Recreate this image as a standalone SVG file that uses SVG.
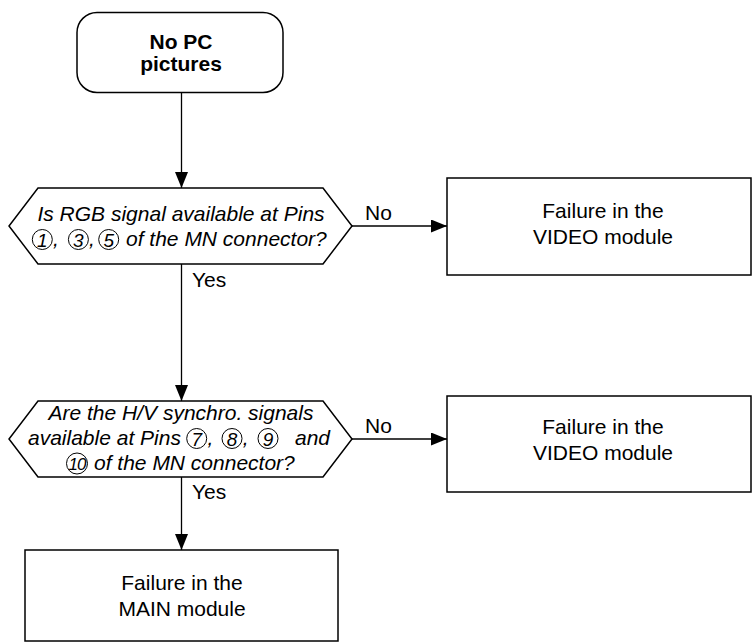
<svg xmlns="http://www.w3.org/2000/svg" width="752" height="642" viewBox="0 0 752 642">
  <style>
    text { font-family: "Liberation Sans", Arial, sans-serif; font-size: 21px; fill: #000; }
    .b { font-weight: bold; }
    .i { font-style: italic; }
    .m { text-anchor: middle; }
    .shape { fill: #fff; stroke: #000; stroke-width: 1.5; }
    .pin { fill: none; stroke: #000; stroke-width: 1; }
    .num { font-style: italic; font-size: 19px; text-anchor: middle; }
    .wire { fill: none; stroke: #000; stroke-width: 1.3; }
  </style>
  <defs>
    <marker id="arrow" markerWidth="16" markerHeight="13" refX="16" refY="6.5" orient="auto" markerUnits="userSpaceOnUse">
      <path d="M0,0 L16,6.5 L0,13 Z" fill="#000"/>
    </marker>
  </defs>

  <rect width="752" height="642" fill="#fff"/>

  <!-- connectors -->
  <g id="connectors">
    <line class="wire" x1="181.5" y1="93" x2="181.5" y2="188" marker-end="url(#arrow)"/>
    <line class="wire" x1="352" y1="226" x2="447" y2="226" marker-end="url(#arrow)"/>
    <line class="wire" x1="181.5" y1="264" x2="181.5" y2="401" marker-end="url(#arrow)"/>
    <line class="wire" x1="352" y1="439" x2="447" y2="439" marker-end="url(#arrow)"/>
    <line class="wire" x1="181.5" y1="477" x2="181.5" y2="550" marker-end="url(#arrow)"/>
    <text x="365" y="220">No</text>
    <text x="192" y="287">Yes</text>
    <text x="365" y="433">No</text>
    <text x="192" y="499">Yes</text>
  </g>

  <!-- start terminal -->
  <g id="start">
    <rect class="shape" x="77" y="12.5" width="206" height="80" rx="20" ry="20"/>
    <text class="b m" x="181" y="49">No PC</text>
    <text class="b m" x="181" y="71">pictures</text>
  </g>

  <!-- decision: RGB signal -->
  <g id="check-rgb">
    <polygon class="shape" points="38,188 323,188 352,226 323,264 38,264 9,226"/>
    <text class="i m" x="181" y="221">Is RGB signal available at Pins</text>
    <circle class="pin" cx="42.3" cy="239.5" r="10"/>
    <text class="num" x="42.3" y="246.5">1</text>
    <text class="i" x="53" y="246">,</text>
    <circle class="pin" cx="78.4" cy="239.5" r="10"/>
    <text class="num" x="78.4" y="246.5">3</text>
    <text class="i" x="89" y="246">,</text>
    <circle class="pin" cx="108.7" cy="239.5" r="10"/>
    <text class="num" x="108.7" y="246.5">5</text>
    <text class="i" x="126" y="246">of the MN connector?</text>
  </g>

  <!-- result: video module (RGB) -->
  <g id="video-rgb">
    <rect class="shape" x="447" y="178" width="304" height="97"/>
    <text class="m" x="603" y="218">Failure in the</text>
    <text class="m" x="603" y="244">VIDEO module</text>
  </g>

  <!-- decision: H/V sync signals -->
  <g id="check-sync">
    <polygon class="shape" points="38,401 323,401 352,439 323,477 38,477 9,439"/>
    <text class="i m" x="181" y="420">Are the H/V synchro. signals</text>
    <text class="i" x="28" y="445">available at Pins</text>
    <circle class="pin" cx="196.7" cy="438.5" r="10"/>
    <text class="num" x="196.7" y="445.5">7</text>
    <text class="i" x="207.5" y="445">,</text>
    <circle class="pin" cx="232" cy="438.5" r="10"/>
    <text class="num" x="232" y="445.5">8</text>
    <text class="i" x="242.8" y="445">,</text>
    <circle class="pin" cx="268" cy="438.5" r="10"/>
    <text class="num" x="268" y="445.5">9</text>
    <text class="i" x="295" y="445">and</text>
    <circle class="pin" cx="77" cy="463.5" r="10.5"/>
    <text class="num" x="77" y="470" style="font-size:17px;letter-spacing:-1px">10</text>
    <text class="i" x="94" y="470">of the MN connector?</text>
  </g>

  <!-- result: video module (sync) -->
  <g id="video-sync">
    <rect class="shape" x="447" y="396" width="304" height="96"/>
    <text class="m" x="603" y="434">Failure in the</text>
    <text class="m" x="603" y="460">VIDEO module</text>
  </g>

  <!-- result: main module -->
  <g id="main-module">
    <rect class="shape" x="25" y="550" width="313" height="91"/>
    <text class="m" x="182" y="590">Failure in the</text>
    <text class="m" x="182" y="616">MAIN module</text>
  </g>
</svg>
